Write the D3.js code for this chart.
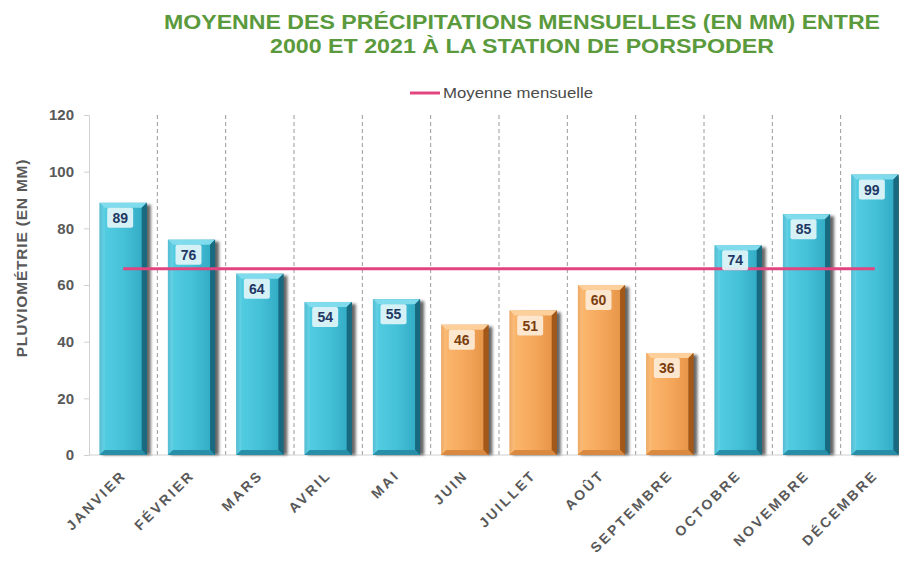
<!DOCTYPE html>
<html>
<head>
<meta charset="utf-8">
<script src="https://cdn.jsdelivr.net/npm/d3@7/dist/d3.min.js"></script>
<style>
  html, body { margin: 0; padding: 0; background: #fff; }
  svg { display: block; }
</style>
</head>
<body>
<svg id="chart" width="899" height="566"></svg>
<script>
const months = ["JANVIER","FÉVRIER","MARS","AVRIL","MAI","JUIN","JUILLET","AOÛT","SEPTEMBRE","OCTOBRE","NOVEMBRE","DÉCEMBRE"];
const rainfall = [89,76,64,54,55,46,51,60,36,74,85,99];
const season = ["wet","wet","wet","wet","wet","dry","dry","dry","dry","wet","wet","wet"];
const yTicks = [0,20,40,60,80,100,120];
const titleLines = ["MOYENNE DES PRÉCIPITATIONS MENSUELLES (EN MM) ENTRE","2000 ET 2021 À LA STATION DE PORSPODER"];
const legendLabel = "Moyenne mensuelle";
const yAxisLabel = "PLUVIOMÉTRIE (EN MM)";

const svg = d3.select("#chart");
const plot = {left: 89, right: 909, top: 115, bottom: 455};

const x = d3.scaleBand().domain(months).range([plot.left, plot.right]).paddingInner(0.31).paddingOuter(0.155);
const y = d3.scaleLinear().domain([0,120]).range([plot.bottom, plot.top]);

const palette = {
  wet: {stops:["#2a98b2","#52cce1","#45c1d8","#34aec7","#176a82"], top:"#80dcec", left:"#6fd5e8", right:"#186a80", bottom:"#2790a8", box:"#e2f5f9", text:"#1f3864"},
  dry: {stops:["#d8863a","#fbb66c","#f5a85c","#e8974a","#a45a18"], top:"#fdcf9a", left:"#fcc282", right:"#a25818", bottom:"#d98a40", box:"#fdebd8", text:"#7a3e0e"}
};

const defs = svg.append("defs");
Object.entries(palette).forEach(([k,p]) => {
  const g = defs.append("linearGradient").attr("id","grad-"+k).attr("x1","0").attr("x2","1").attr("y1","0").attr("y2","0");
  [0,0.1,0.5,0.88,1].forEach((o,i)=> g.append("stop").attr("offset",o).attr("stop-color",p.stops[i]));
});
const f = defs.append("filter").attr("id","shadow").attr("x","-30%").attr("y","-10%").attr("width","160%").attr("height","130%");
f.append("feGaussianBlur").attr("stdDeviation",1.8);

// Title
svg.append("g").selectAll("text").data(titleLines).join("text")
  .attr("x", 522).attr("y",(d,i)=>29+i*24)
  .attr("text-anchor","middle")
  .attr("font-family","'Liberation Sans Narrow','Liberation Sans',Arial,sans-serif")
  .attr("font-weight","bold").attr("font-size",20)
  .attr("fill","#5a9a3c")
  .attr("textLength",(d,i)=> i===0 ? 716 : 504)
  .attr("lengthAdjust","spacingAndGlyphs")
  .text(d=>d);

// Legend
svg.append("line").attr("x1",410).attr("x2",440).attr("y1",93).attr("y2",93)
  .attr("stroke","#e0457f").attr("stroke-width",3);
svg.append("text").attr("x",443).attr("y",98)
  .attr("font-family","'Liberation Sans',Arial,sans-serif").attr("font-size",14)
  .attr("fill","#4a4a4a").attr("textLength",150).attr("lengthAdjust","spacingAndGlyphs")
  .text(legendLabel);

// Vertical dashed gridlines at band boundaries
const step = x.step();
const bounds = d3.range(1, months.length).map(i => plot.left + i*step);
svg.append("g").selectAll("line").data(bounds).join("line")
  .attr("x1",d=>d).attr("x2",d=>d).attr("y1",plot.top).attr("y2",plot.bottom)
  .attr("stroke","#9a9a9a").attr("stroke-width",1).attr("stroke-dasharray","4,3");

// Y axis
const yAxis = svg.append("g").attr("transform",`translate(${plot.left},0)`)
  .call(d3.axisLeft(y).tickValues(yTicks).tickSize(5).tickPadding(10));
yAxis.select(".domain").attr("stroke","#d0d0d0");
yAxis.selectAll(".tick line").attr("stroke","#d0d0d0");
yAxis.selectAll(".tick text").attr("font-family","'Liberation Sans',Arial,sans-serif")
  .attr("font-weight","bold").attr("font-size",15).attr("fill","#595959");

// Baseline
svg.append("line").attr("x1",plot.left).attr("x2",plot.right).attr("y1",y(0)).attr("y2",y(0))
  .attr("stroke","#d0d0d0");

// Y axis title
svg.append("text").attr("transform",`translate(27,${(plot.top+plot.bottom)/2 - 27}) rotate(-90)`)
  .attr("text-anchor","middle")
  .attr("font-family","'Liberation Sans',Arial,sans-serif").attr("font-weight","bold").attr("font-size",15.5)
  .attr("letter-spacing","0.8px")
  .attr("fill","#595959").text(yAxisLabel);

// Bars
const data = months.map((m,i)=>({m, v: rainfall[i], s: season[i]}));
const bars = svg.append("g").selectAll("g").data(data).join("g");
const bw = x.bandwidth();
const bev = 5;
bars.append("rect")
  .attr("x",d=>x(d.m)+3).attr("y",d=>y(d.v)+2)
  .attr("width",bw+1).attr("height",d=>y(0)-y(d.v)-2)
  .attr("fill","#000").attr("opacity",0.6).attr("filter","url(#shadow)");
bars.append("rect")
  .attr("x",d=>x(d.m)).attr("y",d=>y(d.v))
  .attr("width",bw).attr("height",d=>y(0)-y(d.v))
  .attr("fill",d=>`url(#grad-${d.s})`);
bars.append("path").attr("fill",d=>palette[d.s].top)
  .attr("d",d=>{const x0=x(d.m), x1=x0+bw, y0=y(d.v); return `M${x0},${y0}L${x1},${y0}L${x1-bev},${y0+bev}L${x0+bev},${y0+bev}Z`;});
bars.append("path").attr("fill",d=>palette[d.s].left).attr("opacity",0.6)
  .attr("d",d=>{const x0=x(d.m), y0=y(d.v), yb=y(0); return `M${x0},${y0}L${x0+bev},${y0+bev}L${x0+bev},${yb-bev}L${x0},${yb}Z`;});
bars.append("path").attr("fill",d=>palette[d.s].right)
  .attr("d",d=>{const x1=x(d.m)+bw, y0=y(d.v), yb=y(0); return `M${x1},${y0}L${x1-bev},${y0+bev}L${x1-bev},${yb-bev}L${x1},${yb}Z`;});
bars.append("path").attr("fill",d=>palette[d.s].bottom)
  .attr("d",d=>{const x0=x(d.m), x1=x0+bw, yb=y(0); return `M${x0},${yb}L${x1},${yb}L${x1-bev},${yb-bev}L${x0+bev},${yb-bev}Z`;});

// Mean line
const meanVal = d3.mean(rainfall);
svg.append("line")
  .attr("x1", x(months[0]) + bw/2).attr("x2", x(months[months.length-1]) + bw/2)
  .attr("y1", y(meanVal)).attr("y2", y(meanVal))
  .attr("stroke","#e0457f").attr("stroke-width",3);

// Value labels
const lab = svg.append("g").selectAll("g").data(data).join("g")
  .attr("transform",d=>`translate(${x(d.m)+bw/2 - 3},${y(d.v)+15})`);
lab.append("rect").attr("x",-13).attr("y",-10).attr("width",26).attr("height",20).attr("rx",2)
  .attr("fill",d=>palette[d.s].box).attr("opacity",0.92);
lab.append("text").attr("text-anchor","middle").attr("dy","0.36em")
  .attr("font-family","'Liberation Sans',Arial,sans-serif").attr("font-weight","bold").attr("font-size",14)
  .attr("fill",d=>palette[d.s].text).text(d=>d.v);

// X labels
svg.append("g").selectAll("text").data(months).join("text")
  .attr("transform",d=>`translate(${x(d)+bw/2+4},${476}) rotate(-45)`)
  .attr("text-anchor","end")
  .attr("font-family","'Liberation Sans',Arial,sans-serif").attr("font-weight","bold").attr("font-size",14)
  .attr("letter-spacing","2.5px")
  .attr("fill","#595959").text(d=>d);
</script>
</body>
</html>
